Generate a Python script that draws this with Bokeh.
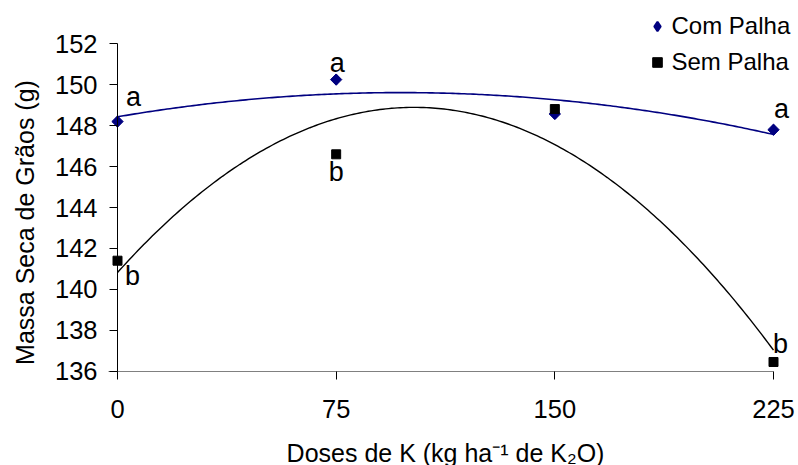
import numpy as np
from bokeh.plotting import figure
from bokeh.models import (ColumnDataSource, Range1d, FixedTicker, Legend, LegendItem,
                          LabelSet, Label)
from bokeh.core.properties import value
from bokeh.embed import file_html
from bokeh.resources import INLINE

# ---- data ----
doses = [0, 75, 150, 225]
com_palha = [148.2, 150.25, 148.57, 147.8]
sem_palha = [141.4, 146.6, 148.81, 136.45]
com_letters = ["a", "a", "", "a"]
sem_letters = ["b", "b", "", "b"]
x_ticks = [0, 75, 150, 225]
y_ticks = [136, 138, 140, 142, 144, 146, 148, 150, 152]
series_names = ["Com Palha", "Sem Palha"]
x_title = "Doses de K (kg ha\u207b\u00b9 de K\u2082O)"
y_title = "Massa Seca de Grãos (g)"

FONT = "Liberation Sans"
BLUE = "#000080"

# ---- layout: the frame fills the whole canvas, axes sit at fixed data positions ----
W, H = 798, 465
PX_XA, PX_XB = 117.0, 773.0    # pixel column of first / last x tick
PX_YA, PX_YB = 370.7, 43.3     # pixel row of first / last y tick
kx = (PX_XB - PX_XA) / (x_ticks[-1] - x_ticks[0])
ky = (PX_YA - PX_YB) / (y_ticks[-1] - y_ticks[0])
def dx(px):
    return x_ticks[0] + (px - PX_XA) / kx
def dy(py):
    return y_ticks[0] + (PX_YA - py) / ky

p = figure(width=W, height=H, output_backend="svg", toolbar_location=None,
           x_range=Range1d(dx(0), dx(W)), y_range=Range1d(dy(H), dy(0)),
           min_border=0)
p.grid.visible = False
p.outline_line_color = None
p.background_fill_color = "white"
p.border_fill_color = "white"

# quadratic trend lines (least-squares fit of the data, as the spreadsheet trendline)
xf = np.linspace(x_ticks[0], x_ticks[-1], 226)
c_com = np.polyfit(doses, com_palha, 2)
c_sem = np.polyfit(doses, sem_palha, 2)
p.line(xf, np.polyval(c_com, xf), line_color=BLUE, line_width=1.6)
p.line(xf, np.polyval(c_sem, xf), line_color="black", line_width=1.4)

src = ColumnDataSource(dict(x=doses, com=com_palha, sem=sem_palha))
# inner diamond (also the legend glyph) covered by a 45-degree square of the same colour
r_com = p.scatter("x", "com", source=src, marker="diamond", size=9,
                  fill_color=BLUE, line_color=BLUE, line_width=2)
p.scatter("x", "com", source=src, marker="square", angle=np.pi / 4, size=8,
          fill_color=BLUE, line_color=BLUE)
r_sem = p.scatter("x", "sem", source=src, marker="square", size=9,
                  fill_color="black", line_color="black")

# significance letters
lab = ColumnDataSource(dict(x=doses, com=com_palha, sem=sem_palha,
                            lc=com_letters, ls=sem_letters,
                            cdx=[16, 1, 0, 8], cdy=[16, 8, 0, 12],
                            sdx=[15, 0, 0, 7], sdy=[-24, -27, 0, 9]))
for ycol, tcol, ox, oy in (("com", "lc", "cdx", "cdy"), ("sem", "ls", "sdx", "sdy")):
    p.add_layout(LabelSet(x="x", y=ycol, text=tcol, source=lab, x_offset=ox, y_offset=oy,
                          text_font=value(FONT), text_font_size=value("27px"),
                          text_align="center", text_baseline="alphabetic",
                          text_color="black"))

# axes at fixed positions
xa = p.xaxis[0]
ya = p.yaxis[0]
xa.fixed_location = y_ticks[0]
ya.fixed_location = x_ticks[0]
xa.bounds = (dx(108), x_ticks[-1])
ya.bounds = (y_ticks[0], y_ticks[-1])
xa.ticker = FixedTicker(ticks=x_ticks)
ya.ticker = FixedTicker(ticks=y_ticks)
for ax in (xa, ya):
    ax.minor_tick_line_color = None
    ax.major_tick_in = 0
    ax.major_tick_out = 8
    ax.major_tick_line_color = "black"
    ax.major_label_text_font = FONT
    ax.major_label_text_font_size = "25.5px"
    ax.major_label_text_color = "black"
xa.axis_line_color = "#808080"
ya.axis_line_color = "black"
xa.major_label_standoff = 21
ya.major_label_standoff = 12

# axis titles
p.add_layout(Label(x=(x_ticks[0] + x_ticks[-1]) / 2, y=dy(452), text=x_title,
                   text_font=FONT, text_font_size="25px", text_color="black",
                   text_align="center", text_baseline="middle"))
p.add_layout(Label(x=dx(24), y=dy(222), text=y_title, angle=np.pi / 2,
                   text_font=FONT, text_font_size="25px", text_color="black",
                   text_align="center", text_baseline="middle"))

legend = Legend(items=[LegendItem(label=series_names[0], renderers=[r_com]),
                       LegendItem(label=series_names[1], renderers=[r_sem])],
                location=(644.5, 389.3), orientation="vertical",
                glyph_width=24, glyph_height=28, label_height=28, label_standoff=3,
                spacing=8, padding=0, margin=0,
                label_text_font=FONT, label_text_font_size="24px", label_text_color="black",
                border_line_alpha=0, background_fill_alpha=0)
p.add_layout(legend, "center")

open("out.html", "w").write(file_html(p, INLINE))
